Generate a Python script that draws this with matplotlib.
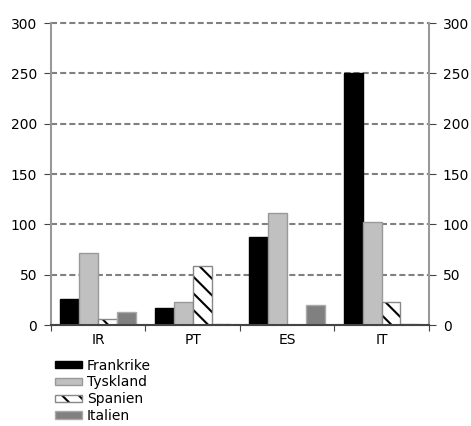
import numpy as np
import matplotlib
matplotlib.use("Agg")
import matplotlib.pyplot as plt
from matplotlib.patches import Patch

# Data
categories = ["IR", "PT", "ES", "IT"]
frankrike = [26, 17, 87, 250]
tyskland = [72, 23, 111, 102]
spanien = [6, 59, 0, 23]
italien = [13, 1.5, 20, 1]

series = [
    ("Frankrike", frankrike, "black", "black"),
    ("Tyskland", tyskland, "#c0c0c0", "#999999"),
    ("Spanien", spanien, "white", "#888888"),
    ("Italien", italien, "#808080", "#aaaaaa"),
]

plt.rcParams["font.family"] = ["DejaVu Sans"]
plt.rcParams["hatch.linewidth"] = 1.5

fig = plt.figure(figsize=(4.71, 4.26), dpi=100)
ax = fig.add_axes([0.108, 0.237, 0.8025, 0.709])

x = np.arange(len(categories))
width = 0.2
handles = []
for i, (name, vals, fc, ec) in enumerate(series):
    pos = x - 0.3 + i * width
    if name == "Spanien":
        # hatch in black, outline in gray
        ax.bar(pos, vals, width, color=fc, edgecolor="black", hatch="\\\\", linewidth=0)
        ax.bar(pos, vals, width, fill=False, edgecolor=ec, linewidth=1)
        handles.append((Patch(facecolor=fc, edgecolor="black", hatch="\\\\", linewidth=0),
                        Patch(fill=False, edgecolor=ec, linewidth=1)))
    else:
        ax.bar(pos, vals, width, color=fc, edgecolor=ec, linewidth=1)
        handles.append(Patch(facecolor=fc, edgecolor=ec, linewidth=1))

ax.set_xlim(-0.5, len(categories) - 0.5)
ax.set_ylim(0, 300)
ax.set_yticks(range(0, 301, 50))
ax.yaxis.grid(True, linestyle=(0, (2.9, 1.5)), color="#808080", linewidth=1.5)
for gl in ax.get_ygridlines():
    gl.set_clip_on(False)
ax.set_axisbelow(True)

# category labels at centres, tick marks at boundaries
ax.set_xticks(np.arange(-0.5, len(categories), 1))
ax.set_xticklabels([])
ax.set_xticks(x, minor=True)
ax.set_xticklabels(categories, minor=True)
ax.tick_params(axis="x", which="minor", length=0, pad=6, labelsize=10)
ax.tick_params(axis="x", which="major", length=4, color="#444444")
ax.tick_params(axis="y", labelsize=10, length=5, color="#444444", pad=5,
               left=True, right=True, labelleft=True, labelright=True)

for side in ["left", "right", "bottom"]:
    ax.spines[side].set_color("#999999")
    ax.spines[side].set_linewidth(1.5)
ax.spines["bottom"].set_color("#444444")
ax.spines["top"].set_visible(False)

fig.legend(handles=handles, labels=[s[0] for s in series],
           loc="upper left", bbox_to_anchor=(0.117, 0.158), frameon=False,
           fontsize=10, handlelength=1.95, handleheight=0.45,
           handletextpad=0.35, labelspacing=0.2, borderpad=0, borderaxespad=0)

plt.savefig("out.png", dpi=100)
